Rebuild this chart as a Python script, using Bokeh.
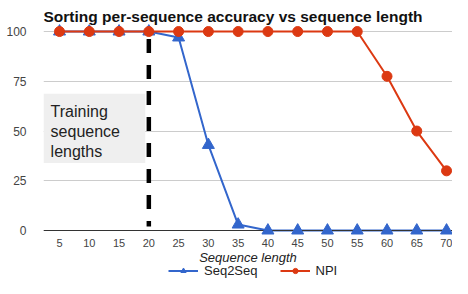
from bokeh.plotting import figure
from bokeh.models import (ColumnDataSource, FixedTicker, Range1d, Legend, LegendItem,
                          BoxAnnotation, Label)
from bokeh.embed import file_html
from bokeh.resources import INLINE

# ---- data ----
lengths = [5, 10, 15, 20, 25, 30, 35, 40, 45, 50, 55, 60, 65, 70]
seq2seq = [100, 100, 100, 100, 97, 43, 3, 0, 0, 0, 0, 0, 0, 0]
npi = [100, 100, 100, 100, 100, 100, 100, 100, 100, 100, 100, 77.5, 50, 30]
y_ticks = [0, 25, 50, 75, 100]
train_len = 20
title_text = "Sorting per-sequence accuracy vs sequence length"
x_title = "Sequence length"
box_text = "Training\nsequence\nlengths"
series_names = ["Seq2Seq", "NPI"]

BLUE = "#3366cc"
RED = "#dc3912"
FONT = "Liberation Sans"

src = ColumnDataSource(dict(x=lengths, s2s=seq2seq, npi=npi))

p = figure(width=452, height=278, output_backend="svg", toolbar_location=None,
           x_range=Range1d(2.31, 71.0), y_range=Range1d(-24.1, 115.6),
           min_border_left=43, min_border_right=0, min_border_top=0, min_border_bottom=0)
p.outline_line_color = None

# axes
p.xaxis.fixed_location = 0
p.xaxis.ticker = FixedTicker(ticks=lengths)
p.xaxis.axis_line_color = "#333333"
p.xaxis.axis_line_width = 1
p.xaxis.major_tick_line_color = None
p.xaxis.minor_tick_line_color = None
p.xaxis.major_label_standoff = 2
p.xaxis.major_label_text_font = FONT
p.xaxis.major_label_text_font_size = "11px"
p.xaxis.major_label_text_color = "#444444"
p.xaxis.axis_label = x_title
p.xaxis.axis_label_text_font = FONT
p.xaxis.axis_label_text_font_size = "13px"
p.xaxis.axis_label_text_font_style = "italic"
p.xaxis.axis_label_text_color = "#222222"
p.xaxis.axis_label_standoff = 0

p.yaxis.ticker = FixedTicker(ticks=y_ticks)
p.yaxis.axis_line_color = None
p.yaxis.major_tick_line_color = None
p.yaxis.minor_tick_line_color = None
p.yaxis.major_label_standoff = 11
p.yaxis.major_label_text_font = FONT
p.yaxis.major_label_text_font_size = "12px"
p.yaxis.major_label_text_color = "#444444"

p.xgrid.grid_line_color = None
p.ygrid.ticker = FixedTicker(ticks=y_ticks)
p.ygrid.grid_line_color = "#cccccc"

# title
p.add_layout(Label(x=2.31, y=107.5, text=title_text, text_font=FONT, text_font_size="15.5px",
                   text_font_style="bold", text_color="#111111", text_baseline="middle"))

# training box
box = BoxAnnotation(left=2.31, right=19.4, top=68.8, bottom=34,
                    fill_color="#efefef", fill_alpha=1, line_color=None)
p.add_layout(box)
p.add_layout(Label(x=3.5, y=64.3, text=box_text, text_font=FONT, text_font_size="16px",
                   text_color="#222222", text_baseline="top", text_line_height=1.2))

# dashed line
p.segment(x0=[train_len], y0=[96.3], x1=[train_len], y1=[2.0], line_color="black",
          line_width=4.5, line_dash="14 12")

# series
l1 = p.line("x", "s2s", source=src, line_color=BLUE, line_width=2)
m1 = p.scatter("x", "s2s", source=src, marker="triangle", size=12,
               fill_color=BLUE, line_color=BLUE, level="overlay")
l2 = p.line("x", "npi", source=src, line_color=RED, line_width=2)
m2 = p.scatter("x", "npi", source=src, marker="circle", size=10,
               fill_color=RED, line_color=RED, level="overlay")

legend = Legend(items=[LegendItem(label=series_names[0], renderers=[l1, m1]),
                       LegendItem(label=series_names[1], renderers=[l2, m2])],
                orientation="horizontal", location=(125, 0),
                border_line_color=None, background_fill_alpha=0,
                label_text_font=FONT, label_text_font_size="13px",
                label_text_color="#222222", glyph_width=30, glyph_height=13,
                label_standoff=6, spacing=22, padding=0, margin=0)
p.add_layout(legend)

open("out.html", "w").write(file_html(p, INLINE))
